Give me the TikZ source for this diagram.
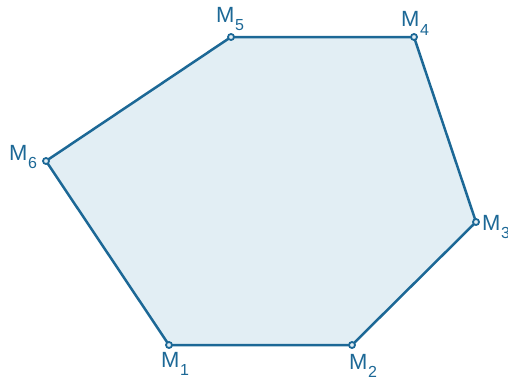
\documentclass[tikz,border=0pt]{standalone}
\usepackage{fontspec}
\setmainfont{Liberation Sans}
\usepackage{tikz}
\definecolor{edgeblue}{RGB}{28,104,150}
\definecolor{faceblue}{RGB}{226,238,244}
\newcommand{\vlab}[1]{M\kern0.5pt\raisebox{-8.5pt}{\fontsize{16}{16}\selectfont #1}}

\begin{document}
\begin{tikzpicture}[x=1pt, y=-1pt,
		vertex/.style={circle, draw=edgeblue, fill=faceblue, line width=1.8pt, inner sep=0pt, minimum size=6pt},
		poly/.style={draw=edgeblue, fill=faceblue, line width=2.5pt, line join=round},
		lbl/.style={text=edgeblue, font=\fontsize{22}{25}\selectfont, inner sep=0pt, anchor=base west},
	]
	\useasboundingbox (0,0) rectangle (508,380);
	\coordinate (m1) at (169,345);
	\coordinate (m2) at (352,345);
	\coordinate (m3) at (476,222);
	\coordinate (m4) at (414,37);
	\coordinate (m5) at (231,37);
	\coordinate (m6) at (46,161);
	\draw[poly] (m1) -- (m2) -- (m3) -- (m4) -- (m5) -- (m6) -- cycle;
	\foreach \v in {m1,m2,m3,m4,m5,m6}
		\node[vertex] at (\v) {};
	\node[lbl] (l1) at (161,367) {\vlab{1}};
	\node[lbl] (l2) at (349,369) {\vlab{2}};
	\node[lbl] (l3) at (482,230) {\vlab{3}};
	\node[lbl] (l4) at (401,27) {\vlab{4}};
	\node[lbl] (l5) at (216,22) {\vlab{5}};
	\node[lbl] (l6) at (9,160) {\vlab{6}};
\end{tikzpicture}
\end{document}
